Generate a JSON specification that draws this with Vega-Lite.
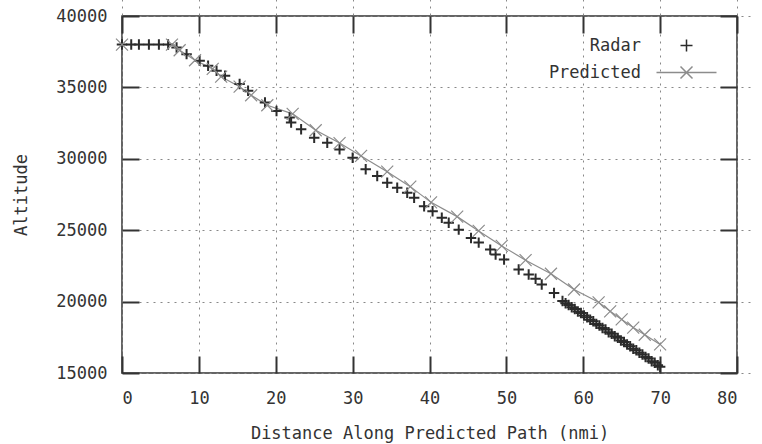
{
  "$schema": "https://vega.github.io/schema/vega-lite/v6.json",
  "width": 615,
  "height": 357,
  "autosize": "none",
  "padding": {"left": 122, "top": 16, "right": 25, "bottom": 71},
  "background": "white",
  "config": {
    "view": {"stroke": "#333", "strokeWidth": 1.5},
    "axis": {"tickColor": "#333", "tickWidth": 2, "tickSize": 17, "offset": -17, "domain": false}
  },
  "datasets": {
    "predicted": [
      {"series": "Predicted", "distance": 0, "altitude": 38000},
      {"series": "Predicted", "distance": 6.5, "altitude": 38000},
      {"series": "Predicted", "distance": 7.5, "altitude": 37600},
      {"series": "Predicted", "distance": 9.5, "altitude": 36900},
      {"series": "Predicted", "distance": 11.8, "altitude": 36300},
      {"series": "Predicted", "distance": 12.9, "altitude": 35750},
      {"series": "Predicted", "distance": 15.3, "altitude": 35050},
      {"series": "Predicted", "distance": 16.8, "altitude": 34450},
      {"series": "Predicted", "distance": 18.9, "altitude": 33750},
      {"series": "Predicted", "distance": 22.2, "altitude": 33150},
      {"series": "Predicted", "distance": 25.2, "altitude": 32000},
      {"series": "Predicted", "distance": 28.3, "altitude": 31100},
      {"series": "Predicted", "distance": 31.1, "altitude": 30200},
      {"series": "Predicted", "distance": 34.5, "altitude": 29100},
      {"series": "Predicted", "distance": 37.5, "altitude": 28050},
      {"series": "Predicted", "distance": 40.2, "altitude": 26950},
      {"series": "Predicted", "distance": 43.6, "altitude": 25950},
      {"series": "Predicted", "distance": 46.4, "altitude": 24950},
      {"series": "Predicted", "distance": 49.4, "altitude": 23900},
      {"series": "Predicted", "distance": 52.5, "altitude": 22900},
      {"series": "Predicted", "distance": 55.8, "altitude": 21950},
      {"series": "Predicted", "distance": 58.8, "altitude": 20850},
      {"series": "Predicted", "distance": 62, "altitude": 19950},
      {"series": "Predicted", "distance": 63.5, "altitude": 19320},
      {"series": "Predicted", "distance": 65, "altitude": 18750},
      {"series": "Predicted", "distance": 66.5, "altitude": 18180},
      {"series": "Predicted", "distance": 68, "altitude": 17680},
      {"series": "Predicted", "distance": 70, "altitude": 17000}
    ],
    "radar": [
      {"series": "Radar", "distance": 0, "altitude": 38000},
      {"series": "Radar", "distance": 1.2, "altitude": 38000},
      {"series": "Radar", "distance": 2.2, "altitude": 38000},
      {"series": "Radar", "distance": 3.5, "altitude": 38000},
      {"series": "Radar", "distance": 4.8, "altitude": 38000},
      {"series": "Radar", "distance": 6, "altitude": 38000},
      {"series": "Radar", "distance": 7.1, "altitude": 37800},
      {"series": "Radar", "distance": 8.4, "altitude": 37330},
      {"series": "Radar", "distance": 10.1, "altitude": 36860},
      {"series": "Radar", "distance": 11.2, "altitude": 36510},
      {"series": "Radar", "distance": 12.3, "altitude": 36160},
      {"series": "Radar", "distance": 13.4, "altitude": 35810},
      {"series": "Radar", "distance": 15.3, "altitude": 35230},
      {"series": "Radar", "distance": 16.4, "altitude": 34760},
      {"series": "Radar", "distance": 18.6, "altitude": 33940},
      {"series": "Radar", "distance": 20.1, "altitude": 33350},
      {"series": "Radar", "distance": 21.8, "altitude": 32890},
      {"series": "Radar", "distance": 22, "altitude": 32540},
      {"series": "Radar", "distance": 23.3, "altitude": 32070},
      {"series": "Radar", "distance": 25, "altitude": 31480},
      {"series": "Radar", "distance": 26.7, "altitude": 31130},
      {"series": "Radar", "distance": 28.3, "altitude": 30660},
      {"series": "Radar", "distance": 30, "altitude": 30080},
      {"series": "Radar", "distance": 31.7, "altitude": 29260},
      {"series": "Radar", "distance": 33.2, "altitude": 28790},
      {"series": "Radar", "distance": 34.5, "altitude": 28330},
      {"series": "Radar", "distance": 35.8, "altitude": 27970},
      {"series": "Radar", "distance": 37.1, "altitude": 27620},
      {"series": "Radar", "distance": 38, "altitude": 27270},
      {"series": "Radar", "distance": 39.3, "altitude": 26680},
      {"series": "Radar", "distance": 40.4, "altitude": 26330},
      {"series": "Radar", "distance": 41.6, "altitude": 25880},
      {"series": "Radar", "distance": 42.5, "altitude": 25530},
      {"series": "Radar", "distance": 43.8, "altitude": 25040},
      {"series": "Radar", "distance": 45.4, "altitude": 24460},
      {"series": "Radar", "distance": 46.4, "altitude": 24130},
      {"series": "Radar", "distance": 47.9, "altitude": 23640},
      {"series": "Radar", "distance": 48.6, "altitude": 23290},
      {"series": "Radar", "distance": 49.7, "altitude": 22940},
      {"series": "Radar", "distance": 51.6, "altitude": 22240},
      {"series": "Radar", "distance": 52.9, "altitude": 21890},
      {"series": "Radar", "distance": 53.8, "altitude": 21600},
      {"series": "Radar", "distance": 54.6, "altitude": 21200},
      {"series": "Radar", "distance": 56.2, "altitude": 20600},
      {"series": "Radar", "distance": 57.3, "altitude": 20050},
      {"series": "Radar", "distance": 57.7, "altitude": 19880},
      {"series": "Radar", "distance": 58.1, "altitude": 19770},
      {"series": "Radar", "distance": 58.5, "altitude": 19600},
      {"series": "Radar", "distance": 58.9, "altitude": 19490},
      {"series": "Radar", "distance": 59.3, "altitude": 19310},
      {"series": "Radar", "distance": 59.7, "altitude": 19200},
      {"series": "Radar", "distance": 60.1, "altitude": 19020},
      {"series": "Radar", "distance": 60.5, "altitude": 18910},
      {"series": "Radar", "distance": 60.9, "altitude": 18730},
      {"series": "Radar", "distance": 61.3, "altitude": 18620},
      {"series": "Radar", "distance": 61.7, "altitude": 18440},
      {"series": "Radar", "distance": 62.1, "altitude": 18330},
      {"series": "Radar", "distance": 62.5, "altitude": 18150},
      {"series": "Radar", "distance": 62.9, "altitude": 18040},
      {"series": "Radar", "distance": 63.3, "altitude": 17860},
      {"series": "Radar", "distance": 63.7, "altitude": 17750},
      {"series": "Radar", "distance": 64.1, "altitude": 17570},
      {"series": "Radar", "distance": 64.5, "altitude": 17460},
      {"series": "Radar", "distance": 64.9, "altitude": 17280},
      {"series": "Radar", "distance": 65.3, "altitude": 17170},
      {"series": "Radar", "distance": 65.7, "altitude": 16990},
      {"series": "Radar", "distance": 66.1, "altitude": 16880},
      {"series": "Radar", "distance": 66.5, "altitude": 16700},
      {"series": "Radar", "distance": 66.9, "altitude": 16590},
      {"series": "Radar", "distance": 67.3, "altitude": 16410},
      {"series": "Radar", "distance": 67.7, "altitude": 16300},
      {"series": "Radar", "distance": 68.1, "altitude": 16120},
      {"series": "Radar", "distance": 68.5, "altitude": 16010},
      {"series": "Radar", "distance": 68.9, "altitude": 15830},
      {"series": "Radar", "distance": 69.3, "altitude": 15720},
      {"series": "Radar", "distance": 69.7, "altitude": 15540},
      {"series": "Radar", "distance": 70, "altitude": 15430}
    ]
  },
  "layer": [
    {
      "data": {"name": "predicted"},
      "mark": {"type": "line", "strokeWidth": 1.2},
      "encoding": {
        "x": {"field": "distance", "type": "quantitative",
          "scale": {"domain": [0, 80], "nice": false},
          "axis": {"orient": "bottom", "tickCount": 8, "grid": true, "gridDash": [2, 5], "gridColor": "#888",
            "labelFont": "DejaVu Sans Mono", "labelFontSize": 17, "labelColor": "#333", "labelPadding": 17,
            "title": "Distance Along Predicted Path (nmi)", "titleFont": "DejaVu Sans Mono", "titleFontSize": 17, "titleFontWeight": "normal", "titleColor": "#333", "titlePadding": 19}},
        "y": {"field": "altitude", "type": "quantitative",
          "scale": {"domain": [15000, 40000], "nice": false, "zero": false},
          "axis": {"orient": "left", "tickCount": 5, "format": "d", "grid": true, "gridDash": [2, 5], "gridColor": "#888",
            "labelFont": "DejaVu Sans Mono", "labelFontSize": 17, "labelColor": "#333", "labelPadding": 15,
            "title": "Altitude", "titleFont": "DejaVu Sans Mono", "titleFontSize": 17, "titleFontWeight": "normal", "titleColor": "#333", "titlePadding": 25}},
        "stroke": {"field": "series", "type": "nominal",
          "scale": {"domain": ["Radar", "Predicted"], "range": ["#2b2b2b", "#8c8c8c"]},
          "legend": {"orient": "none", "legendX": 556, "legendY": 21, "title": null, "padding": 0,
            "labelFont": "DejaVu Sans Mono", "labelFontSize": 17, "labelColor": "#333", "labelAlign": "right", "labelOffset": -54,
            "symbolSize": 144, "symbolStrokeWidth": 1.5, "rowPadding": 8,
            "encode": {"symbols": {"update": {
              "shape": {"signal": "datum.value === 'Radar' ? 'M-1,0H1M0,-1V1' : 'M-5,0H5M-1,-1L1,1M-1,1L1,-1'"},
              "fill": {"value": "transparent"}}}}}}
      }
    },
    {
      "data": {"name": "radar"},
      "mark": {"type": "point", "shape": "M-1,0H1M0,-1V1", "size": 110, "filled": false, "strokeWidth": 2, "opacity": 1},
      "encoding": {
        "x": {"field": "distance", "type": "quantitative",
          "axis": {"orient": "top", "tickCount": 8, "labels": false, "grid": false, "title": null}},
        "y": {"field": "altitude", "type": "quantitative",
          "axis": {"orient": "right", "tickCount": 5, "labels": false, "grid": false, "title": null}},
        "stroke": {"field": "series", "type": "nominal"}
      }
    },
    {
      "data": {"name": "predicted"},
      "mark": {"type": "point", "shape": "M-1,-1L1,1M-1,1L1,-1", "size": 144, "filled": false, "strokeWidth": 1.2, "opacity": 1},
      "encoding": {
        "x": {"field": "distance", "type": "quantitative", "axis": null},
        "y": {"field": "altitude", "type": "quantitative", "axis": null},
        "stroke": {"field": "series", "type": "nominal"}
      }
    }
  ]
}
